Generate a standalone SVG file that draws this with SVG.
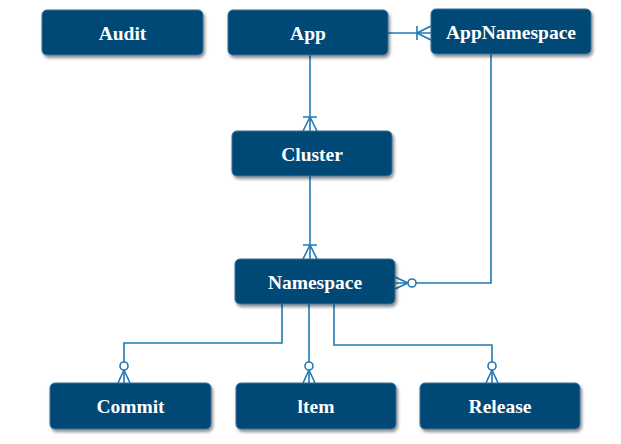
<svg xmlns="http://www.w3.org/2000/svg" width="621" height="444" viewBox="0 0 621 444">
<style>
.box{fill:#054a77;stroke:#3a6f95;stroke-width:1}
.lbl{font-family:"Liberation Serif","Times New Roman",serif;font-weight:bold;font-size:19.5px;fill:#ffffff;text-anchor:middle;dominant-baseline:central}
.conn{fill:none;stroke:#1f7ab5;stroke-width:1.6}
.mk{fill:none;stroke:#1f7ab5;stroke-width:1.6}
.mkc{fill:#ffffff;stroke:#1f7ab5;stroke-width:1.6}
</style>
<defs>
<filter id="sh" x="-10%" y="-20%" width="125%" height="160%">
<feDropShadow dx="1.5" dy="2.5" stdDeviation="1.5" flood-color="#000" flood-opacity="0.45"/>
</filter>
<marker id="oneMany" viewBox="0 0 16 16" refX="16" refY="8" markerWidth="16" markerHeight="16" markerUnits="userSpaceOnUse" orient="auto">
<path class="mk" d="M2,1 V15 M2,8 L16,1 M2,8 L16,15"/>
</marker>
<marker id="zeroMany" viewBox="0 0 22 16" refX="22" refY="8" markerWidth="22" markerHeight="16" markerUnits="userSpaceOnUse" orient="auto">
<path class="mk" d="M9,8 L22,2 M9,8 L22,14"/>
<circle class="mkc" cx="5" cy="8" r="4"/>
</marker>
</defs>
<g id="connectors">
<path class="conn" d="M310,55 V131" marker-end="url(#oneMany)"/>
<path class="conn" d="M310,176 V259" marker-end="url(#oneMany)"/>
<path class="conn" d="M388,33 H431" marker-end="url(#oneMany)"/>
<path class="conn" d="M491,54 V283 H395" marker-end="url(#zeroMany)"/>
<path class="conn" d="M282,304 V343 H124 V383" marker-end="url(#zeroMany)"/>
<path class="conn" d="M309,304 V383" marker-end="url(#zeroMany)"/>
<path class="conn" d="M334,304 V345 H492 V383" marker-end="url(#zeroMany)"/>
</g>
<g id="Audit"><rect class="box" filter="url(#sh)" x="42" y="10" width="161" height="45" rx="5"/><text class="lbl" x="122.5" y="33">Audit</text></g>
<g id="App"><rect class="box" filter="url(#sh)" x="228" y="10" width="160" height="45" rx="5"/><text class="lbl" x="308" y="33">App</text></g>
<g id="AppNamespace"><rect class="box" filter="url(#sh)" x="431" y="9" width="160" height="45" rx="5"/><text class="lbl" x="511" y="32">AppNamespace</text></g>
<g id="Cluster"><rect class="box" filter="url(#sh)" x="232" y="131" width="160" height="45" rx="5"/><text class="lbl" x="312" y="154">Cluster</text></g>
<g id="Namespace"><rect class="box" filter="url(#sh)" x="235" y="259" width="160" height="45" rx="5"/><text class="lbl" x="315" y="282">Namespace</text></g>
<g id="Commit"><rect class="box" filter="url(#sh)" x="50" y="383" width="161" height="46" rx="5"/><text class="lbl" x="130.5" y="406">Commit</text></g>
<g id="Item"><rect class="box" filter="url(#sh)" x="236" y="383" width="160" height="46" rx="5"/><text class="lbl" x="316" y="406">ltem</text></g>
<g id="Release"><rect class="box" filter="url(#sh)" x="420" y="383" width="160" height="46" rx="5"/><text class="lbl" x="500" y="406">Release</text></g>
</svg>
